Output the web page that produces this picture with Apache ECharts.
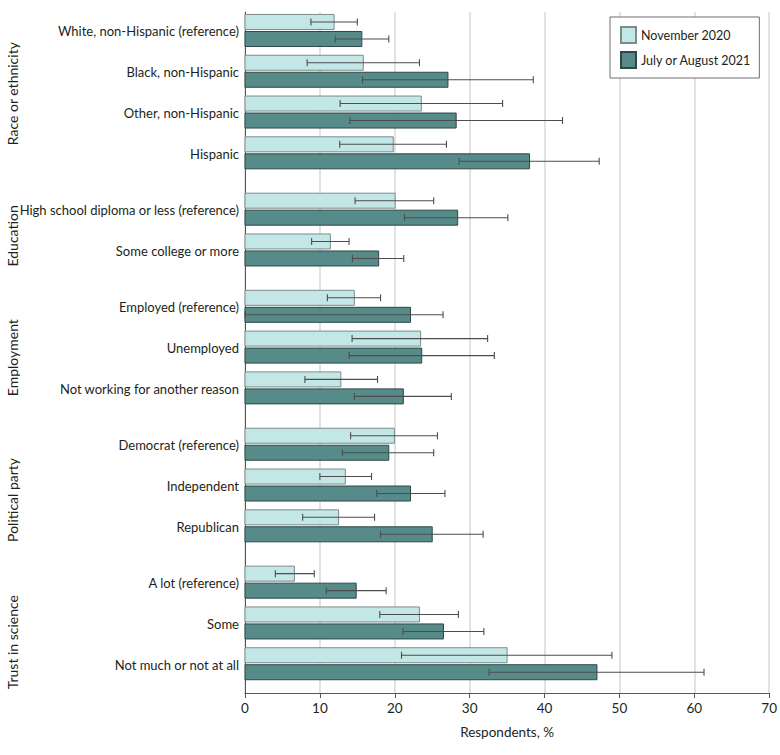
<!DOCTYPE html>
<html>
<head>
<meta charset="utf-8">
<script src="https://cdn.jsdelivr.net/npm/echarts@6/dist/echarts.min.js"></script>
<style>
html,body{margin:0;padding:0;background:#fff;}
#chart{width:780px;height:755px;}
</style>
</head>
<body>
<div id="chart"></div>
<script>
// ---- data ----
const groups = ['Race or ethnicity', 'Education', 'Employment', 'Political party', 'Trust in science'];
const categories = [
  'White, non-Hispanic (reference)', 'Black, non-Hispanic', 'Other, non-Hispanic', 'Hispanic',
  'High school diploma or less (reference)', 'Some college or more',
  'Employed (reference)', 'Unemployed', 'Not working for another reason',
  'Democrat (reference)', 'Independent', 'Republican',
  'A lot (reference)', 'Some', 'Not much or not at all'
];
const groupOf = [0, 0, 0, 0, 1, 1, 2, 2, 2, 3, 3, 3, 4, 4, 4];
const seriesNames = ['November 2020', 'July or August 2021'];
const nov2020 = [11.9, 15.8, 23.55, 19.8, 20.05, 11.4, 14.6, 23.45, 12.8, 19.95, 13.4, 12.5, 6.6, 23.3, 35.0];
const novLow  = [8.8, 8.3, 12.7, 12.65, 14.7, 8.9, 11.0, 14.3, 8.0, 14.1, 10.0, 7.7, 4.05, 18.0, 20.9];
const novHigh = [15.0, 23.3, 34.4, 26.9, 25.2, 13.9, 18.1, 32.4, 17.7, 25.7, 16.9, 17.3, 9.25, 28.5, 49.0];
const jul2021 = [15.6, 27.1, 28.2, 38.0, 28.4, 17.85, 22.1, 23.6, 21.15, 19.2, 22.1, 25.0, 14.85, 26.5, 47.0];
const julLow  = [12.05, 15.7, 14.0, 28.6, 21.3, 14.35, 0, 13.9, 14.6, 13.0, 17.6, 18.1, 10.85, 21.1, 32.6];
const julHigh = [19.2, 38.5, 42.4, 47.3, 35.1, 21.2, 26.45, 33.3, 27.55, 25.2, 26.7, 31.8, 18.85, 31.9, 61.3];
const xTickLabels = ['0', '10', '20', '30', '40', '50', '60', '70'];

// ---- layout helpers ----
const GROUP_GAP = 1.382;           // spacing between groups relative to row spacing
const rowPos = categories.map((c, i) => i + groupOf[i] * (GROUP_GAP - 1));
const yMin = -0.453, yMax = rowPos[rowPos.length - 1] + 0.718;
const FONT = 'Lato, "Liberation Sans", sans-serif';
const TEXT = '#231f20';

const colors = [
  { fill: '#c3e7e6', border: '#7d8b8b' },
  { fill: '#568b89', border: '#2c4847' }
];

function barSeries(k, vals, lo, hi) {
  return {
    type: 'custom',
    name: seriesNames[k],
    clip: false,
    itemStyle: { color: colors[k].fill, borderColor: colors[k].border, borderWidth: 1 },
    encode: { x: 0, y: 1 },
    data: vals.map((v, i) => [v, rowPos[i], lo[i], hi[i]]),
    renderItem: function (params, api) {
      const v = api.value(0), pos = api.value(1), l = api.value(2), h = api.value(3);
      const c0 = api.coord([0, pos]);
      const c1 = api.coord([v, pos]);
      const top = k === 0 ? c0[1] - 16 : c0[1] + 1;
      const mid = top + 7.5;
      const pl = api.coord([l, pos])[0], ph = api.coord([h, pos])[0];
      const children = [
        { type: 'rect', shape: { x: c0[0], y: top, width: c1[0] - c0[0], height: 15 },
          style: { fill: colors[k].fill, stroke: colors[k].border, lineWidth: 1 } },
        { type: 'line', shape: { x1: pl, y1: mid, x2: ph, y2: mid }, style: { stroke: '#4d4d4d', lineWidth: 1.1 } },
        { type: 'line', shape: { x1: pl, y1: mid - 3.5, x2: pl, y2: mid + 3.5 }, style: { stroke: '#4d4d4d', lineWidth: 1.1 } },
        { type: 'line', shape: { x1: ph, y1: mid - 3.5, x2: ph, y2: mid + 3.5 }, style: { stroke: '#4d4d4d', lineWidth: 1.1 } }
      ];
      if (k === 0) {
        children.push({ type: 'text', x: c0[0] - 6, y: c0[1] + 1,
          style: { text: categories[params.dataIndex], fill: TEXT, font: '13px ' + FONT, align: 'right', verticalAlign: 'middle' } });
      }
      return { type: 'group', children: children };
    }
  };
}

const groupSeries = {
  type: 'custom',
  name: 'groups',
  clip: false,
  silent: true,
  encode: { x: 0, y: 1 },
  data: groups.map((g, gi) => {
    const idx = groupOf.map((x, i) => x === gi ? i : -1).filter(i => i >= 0);
    return [0, rowPos[idx[0]], rowPos[idx[idx.length - 1]], gi];
  }),
  renderItem: function (params, api) {
    const a = api.coord([0, api.value(1)]), b = api.coord([0, api.value(2)]);
    const gi = api.value(3);
    const cy = (a[1] + b[1]) / 2 + 2 + 4.3 * gi;
    return { type: 'text', x: 12, y: cy, rotation: Math.PI / 2,
      style: { text: groups[params.dataIndex], fill: TEXT, font: '14px ' + FONT, align: 'center', verticalAlign: 'middle' } };
  }
};

const chart = echarts.init(document.getElementById('chart'), null, { renderer: 'svg' });
chart.setOption({
  animation: false,
  backgroundColor: '#fff',
  grid: { left: 245, right: 10, top: 12, bottom: 62, containLabel: false },
  legend: {
    data: seriesNames,
    left: 610, top: 17,
    orient: 'vertical',
    icon: 'rect',
    itemWidth: 15, itemHeight: 16, itemGap: 7, itemTextGap: 6,
    padding: [9, 8, 9, 10],
    borderColor: '#6e6e6e', borderWidth: 1, backgroundColor: '#fff',
    textStyle: { fontFamily: FONT, fontSize: 12.5, color: TEXT }
  },
  xAxis: {
    type: 'value', min: 0, max: 70, interval: 10,
    name: 'Respondents, %', nameLocation: 'middle', nameGap: 32,
    nameTextStyle: { fontFamily: FONT, fontSize: 13.5, color: TEXT },
    axisLine: { show: true, onZero: false, lineStyle: { color: '#555', width: 1 } },
    axisTick: { show: true, length: 5, lineStyle: { color: '#555' } },
    axisLabel: { fontFamily: FONT, fontSize: 13.5, color: TEXT, margin: 8,
      formatter: (v) => xTickLabels[Math.round(v / 10)] },
    splitLine: { show: true, lineStyle: { color: '#d9d9d9', width: 1.5 } }
  },
  yAxis: {
    type: 'value', inverse: true, min: yMin, max: yMax,
    axisLine: { show: true, onZero: false, lineStyle: { color: '#555', width: 1 } },
    axisTick: { show: false }, axisLabel: { show: false }, splitLine: { show: false }
  },
  series: [
    barSeries(0, nov2020, novLow, novHigh),
    barSeries(1, jul2021, julLow, julHigh),
    groupSeries
  ]
});
</script>
</body>
</html>
